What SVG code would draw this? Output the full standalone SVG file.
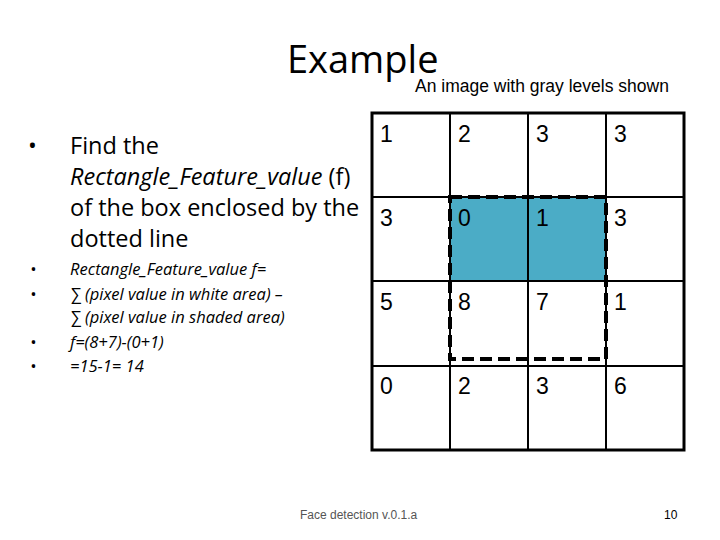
<svg xmlns="http://www.w3.org/2000/svg" width="720" height="540" viewBox="0 0 720 540">
<style>
.c{font-family:"Liberation Sans",Arial,sans-serif;font-size:23px;fill:#000}
.b{font-family:"Open Sans","Liberation Sans",sans-serif;font-size:23.5px;fill:#000}
.s{font-family:"Open Sans","Liberation Sans",sans-serif;font-size:16.5px;font-style:italic;fill:#000}
.g{stroke:#000;stroke-width:2;fill:none}
</style>
<rect width="720" height="540" fill="#fff"/>
<text x="287" y="73" font-family="Open Sans,Liberation Sans,sans-serif" font-size="38">Example</text>
<text x="415" y="92" font-family="Liberation Sans,Arial,sans-serif" font-size="17.5">An image with gray levels shown</text>
<g id="text">
<text class="b" x="28" y="154">•</text>
<text class="b" x="70" y="154">Find the</text>
<text class="b" x="70" y="185"><tspan font-style="italic">Rectangle_Feature_value</tspan> (f)</text>
<text class="b" x="70" y="216">of the box enclosed by the</text>
<text class="b" x="70" y="247">dotted line</text>
<text class="s" x="30" y="275" font-style="normal">•</text>
<text class="s" x="70" y="275">Rectangle_Feature_value f=</text>
<text class="s" x="30" y="300" font-style="normal">•</text>
<text class="s" x="70" y="300">∑ (pixel value in white area) –</text>
<text class="s" x="70" y="323">∑ (pixel value in shaded area)</text>
<text class="s" x="30" y="348" font-style="normal">•</text>
<text class="s" x="70" y="348">f=(8+7)-(0+1)</text>
<text class="s" x="30" y="372" font-style="normal">•</text>
<text class="s" x="70" y="372">=15-1= 14</text>
</g>
<g id="grid">
<rect x="450" y="197" width="156" height="84" fill="#4BACC6"/>
<rect x="372" y="113" width="312" height="337" fill="none" stroke="#000" stroke-width="3"/>
<path class="g" d="M450 113V450M528 113V450M606 113V450M372 197H684M372 281H684M372 366H684"/>
<rect x="450" y="197" width="156" height="162" fill="none" stroke="#000" stroke-width="4" stroke-dasharray="12,6"/>
<g class="c">
<text x="380" y="142">1</text><text x="458" y="142">2</text><text x="536" y="142">3</text><text x="614" y="142">3</text>
<text x="380" y="226">3</text><text x="458" y="226">0</text><text x="536" y="226">1</text><text x="614" y="226">3</text>
<text x="380" y="310">5</text><text x="458" y="310">8</text><text x="536" y="310">7</text><text x="614" y="310">1</text>
<text x="380" y="394">0</text><text x="458" y="394">2</text><text x="536" y="394">3</text><text x="614" y="394">6</text>
</g>
</g>
<text x="300" y="519" font-family="Liberation Sans,Arial,sans-serif" font-size="12" fill="#555">Face detection v.0.1.a</text>
<text x="664" y="519" font-family="Liberation Sans,Arial,sans-serif" font-size="12">10</text>
</svg>
